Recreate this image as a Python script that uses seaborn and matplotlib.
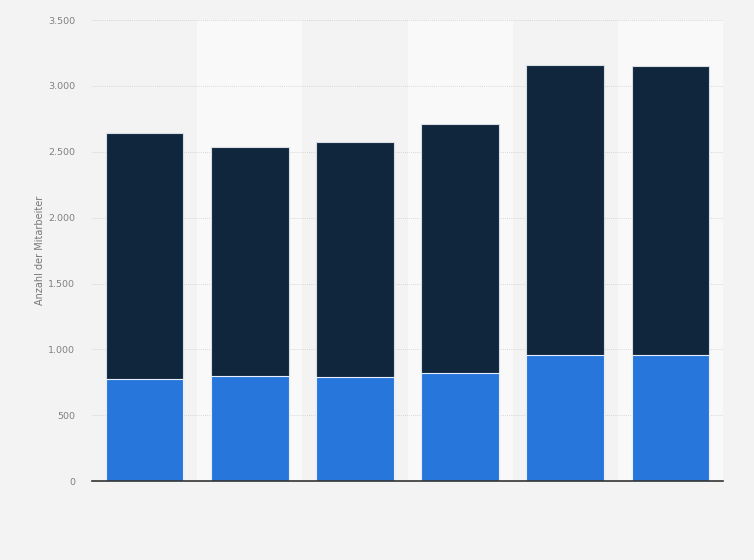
import numpy as np
import pandas as pd
import matplotlib
matplotlib.use("Agg")
import matplotlib.pyplot as plt
import seaborn as sns
from matplotlib.ticker import FuncFormatter

# values (no category labels are shown)
positions = ["1", "2", "3", "4", "5", "6"]
lower_part = [774, 796, 789, 820, 955, 956]
total = [2641, 2535, 2572, 2710, 3160, 3152]

df = pd.DataFrame({"pos": positions, "lower": lower_part, "total": total})

sns.set_style("white")
plt.rcParams["font.family"] = ["DejaVu Sans"]

fig = plt.figure(figsize=(7.54, 5.6), dpi=100, facecolor="#f3f3f3")
ax = fig.add_axes([0.122, 0.141, 0.837, 0.823])
ax.set_facecolor("#f3f3f3")

# alternating column bands
for i in range(len(positions)):
    if i % 2 == 1:
        ax.axvspan(i - 0.5, i + 0.5, color="#f9f9f9", zorder=0, lw=0)

sns.barplot(data=df, x="pos", y="total", color="#0f263d", saturation=1,
            width=0.74, edgecolor="#d8dde3", linewidth=0.8, ax=ax, zorder=3)
sns.barplot(data=df, x="pos", y="lower", color="#2776dc", saturation=1,
            width=0.74, edgecolor="#e8f0fb", linewidth=0.8, ax=ax, zorder=4)

ax.set_xlim(-0.5, len(positions) - 0.5)
ax.set_ylim(0, 3500)
ax.set_yticks(np.arange(0, 3501, 500))
ax.yaxis.set_major_formatter(FuncFormatter(lambda v, p: f"{int(v):,}".replace(",", ".")))
ax.yaxis.grid(True, linestyle=(0, (1, 1.5)), color="#cccccc", linewidth=0.6, zorder=1)
ax.set_axisbelow(True)

ax.set_xticks([])
ax.set_xlabel("")
ax.set_ylabel("Anzahl der Mitarbeiter", fontsize=7, color="#777777", labelpad=2)
ax.tick_params(axis="y", length=0, labelsize=6.8, labelcolor="#808080", pad=12)

for s in ["top", "right", "left"]:
    ax.spines[s].set_visible(False)
ax.spines["bottom"].set_color("#333333")
ax.spines["bottom"].set_linewidth(1.2)
ax.spines["bottom"].set_zorder(6)

fig.savefig("out.png", dpi=100, facecolor=fig.get_facecolor())
